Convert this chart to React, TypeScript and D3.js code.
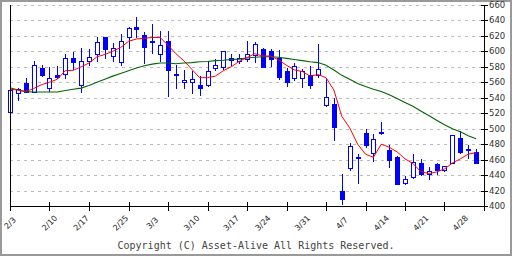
import React from "react";
import * as d3 from "d3";

const opens = [521,546,559,548,579,552,569,571,591,557,587,596,618,594,586,618,631.5,621,612,597,613,570.5,560,560,556,556,579,580,592,587,590,595,603,600,592,575,565,565,569,570,531,532,420,449,463,495,469,496,473,463,430,437,456,441,454,447,456,488,473,470];
const highs = [552,553,565,587,582,580,581,597,599,605,603,618,619,611,622,632,644,625,635,626,627,583,576,575,568,587,590,601,597,596,613,612,604,603,602,578,585,577,581,610,566,540,441,482,467,500,493,509,479,465,439,467,461,451,456,452,492,497,479,474];
const lows = [520,537,547,547,568,549,566,565,577,547,583,587,591,587,582,604,618,585,598,587,542,552,552,546,544,555,576,577,583,585,587,586,580,581,564,555,563,554,553,567,529,485,403,447,430,476,458,493,450,429,428,436,440,435,441,445,456,469,462,456];
const closes = [550,551,548,582,569,566,567,591,586,587,593,612,603,605,613,630,629.5,606,613,608,576,569.5,563,564,553,575,582,600,589,591,597,610,580,590,567,560,581,574,557,577,541,502,409,477,462,479,487,494,459,429,435,457,442,445,447,452,492,470,474,456];

const maShort = [551,550,548,552,557,560,564,575,575.5,580,585,593,596,600,605,613,616,617,618,618,608,597,588,577,566,566,568,575,580,587,592,597,594,594,589,582,576,574,568,570,566,550,516,501,480,467,463,480,476,470,461,455,444.5,442,444,448,455.5,461,467,469];
const maLong = [553,550,548,547.5,547.5,547.5,547.5,549.5,551,552.5,556,560,564,568,571.5,575,578.5,581.5,583.5,585,585,584,585,585.5,586.5,587,588,588.5,589.5,590,591.5,592.5,593,593,592.5,591,589.5,588,586.5,585.5,582,576,569,564,558.5,554.5,551,548,544,539,534,529,523,517,511,505,500,496,491,487];

const dateLabels = ["2/3","2/10","2/17","2/25","3/3","3/10","3/17","3/24","3/31","4/7","4/14","4/21","4/28"];
const dateIndex = [0,5,9,14,18,23,28,32,37,42,47,52,57];
const priceTicks = [400,420,440,460,480,500,520,540,560,580,600,620,640,660];
const xTicks = d3.range(0, 61, 5);

export default function App() {
  const x = d3.scaleLinear().domain([0, 60]).range([10, 484]);
  const y = d3.scaleLinear().domain([400, 660]).range([206, 5]);
  const line = (vals: number[]) =>
    d3.line<number>().x((_, i) => x(i)).y((v) => y(v))(vals) || "";
  const blue = "#0000ff";
  return (
    <svg width={512} height={256} style={{ position: "absolute", left: 0, top: 0, background: "#fff" }}>
      <rect x={1} y={1} width={510} height={254} fill="#fff" stroke="#999" strokeWidth={2} />
      {priceTicks.filter((t) => t > 400).map((t) => (
        <line key={"g" + t} x1={10} x2={484} y1={Math.round(y(t)) + 0.5} y2={Math.round(y(t)) + 0.5}
          stroke="#bbbbbb" strokeDasharray="3,4" />
      ))}
      {opens.map((o, i) => {
        const c = closes[i];
        const px = Math.round(x(i));
        const up = c >= o;
        const top = Math.round(y(Math.max(o, c)));
        const bot = Math.round(y(Math.min(o, c)));
        const h = Math.max(1, bot - top);
        return (
          <g key={"c" + i}>
            <line x1={px + 0.5} x2={px + 0.5} y1={Math.round(y(highs[i]))} y2={Math.round(y(lows[i])) + 1} stroke={blue} strokeWidth={1} />
            <rect x={px - 1.5} y={top + 0.5} width={4} height={h} fill={up ? "#fff" : blue} stroke={blue} strokeWidth={1} />
          </g>
        );
      })}
      <path d={line(maLong)} fill="none" stroke="#006600" strokeWidth={1.1} />
      <path d={line(maShort)} fill="none" stroke="#ff0000" strokeWidth={1} />
      <line x1={10.5} x2={10.5} y1={5} y2={211} stroke="#000" />
      <line x1={484.5} x2={484.5} y1={5} y2={211} stroke="#000" />
      <line x1={10} x2={485} y1={206.5} y2={206.5} stroke="#000" />
      {xTicks.map((t) => (
        <line key={"xt" + t} x1={Math.round(x(t)) + 0.5} x2={Math.round(x(t)) + 0.5} y1={202} y2={211} stroke="#000" />
      ))}
      {priceTicks.map((t) => (
        <g key={"yt" + t}>
          <line x1={481} x2={488} y1={Math.round(y(t)) + 0.5} y2={Math.round(y(t)) + 0.5} stroke="#000" />
          <text x={489} y={y(t)} dy="0.35em" fontSize={8.5} fontFamily="DejaVu Sans" fill="#333">{t}</text>
        </g>
      ))}
      {dateLabels.map((d, k) => {
        const cx = x(dateIndex[k]);
        return (
          <text key={"d" + k} transform={`translate(${cx},223) rotate(-45)`} textAnchor="middle" dy="0.35em"
            fontSize={8} fontFamily="DejaVu Sans" fill="#222">{d}</text>
        );
      })}
      <text x={256} y={249} textAnchor="middle" fontSize={10} fontFamily="DejaVu Sans Mono" fill="#444">
        Copyright (C) Asset-Alive All Rights Reserved.
      </text>
    </svg>
  );
}
